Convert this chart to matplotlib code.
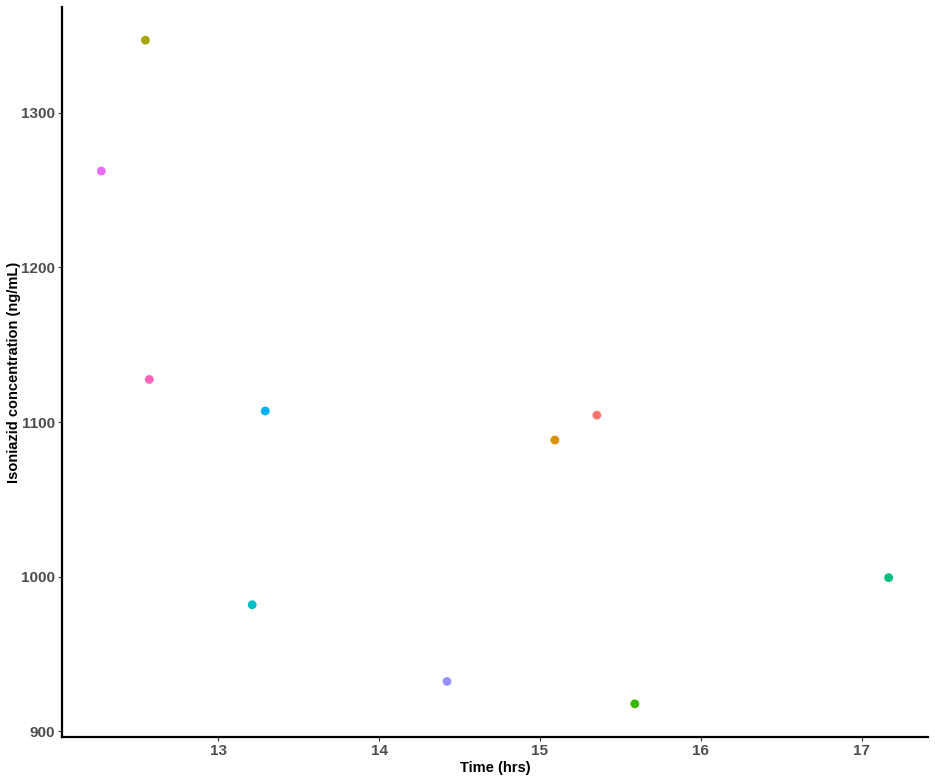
import matplotlib
matplotlib.use('Agg')
import matplotlib.pyplot as plt

# time (hrs) and isoniazid concentration (ng/mL), one point per subject
time_hrs = [15.354, 15.093, 12.547, 15.590, 17.168, 13.211, 13.292, 14.422, 12.273, 12.571]
conc = [1104.5, 1088.4, 1347.0, 917.8, 999.4, 981.9, 1107.2, 932.3, 1262.4, 1127.6]
colors = ['#F8766D', '#D89000', '#A3A500', '#39B600', '#00BF7D',
          '#00BFC4', '#00B0F6', '#9590FF', '#E76BF3', '#FF62BC']

plt.rcParams['font.family'] = ['Liberation Sans', 'DejaVu Sans']

fig = plt.figure(figsize=(9.35, 7.79), dpi=100)
ax = fig.add_axes([0.0663, 0.0539, 0.9262, 0.9371])

ax.scatter(time_hrs, conc, c=colors, s=40, edgecolors='none', zorder=3)

xr = max(time_hrs) - min(time_hrs)
yr = max(conc) - min(conc)
ax.set_xlim(min(time_hrs) - 0.05 * xr, max(time_hrs) + 0.05 * xr)
ax.set_ylim(min(conc) - 0.05 * yr, max(conc) + 0.05 * yr)
ax.set_xticks([13, 14, 15, 16, 17])
ax.set_yticks([900, 1000, 1100, 1200, 1300])

for s in ['top', 'right']:
    ax.spines[s].set_visible(False)
for s in ['left', 'bottom']:
    ax.spines[s].set_linewidth(1.6)
    ax.spines[s].set_color('black')

ax.tick_params(axis='both', length=3, width=0.8, color='#333333',
               labelsize=11, labelcolor='#4D4D4D', pad=2)
for lab in ax.get_xticklabels() + ax.get_yticklabels():
    lab.set_fontweight('bold')

ax.set_xlabel('Time (hrs)', fontsize=10.5, fontweight='bold', labelpad=2)
ax.set_ylabel('Isoniazid concentration (ng/mL)', fontsize=10.5, fontweight='bold', labelpad=0)

fig.savefig('out.png', dpi=100)
